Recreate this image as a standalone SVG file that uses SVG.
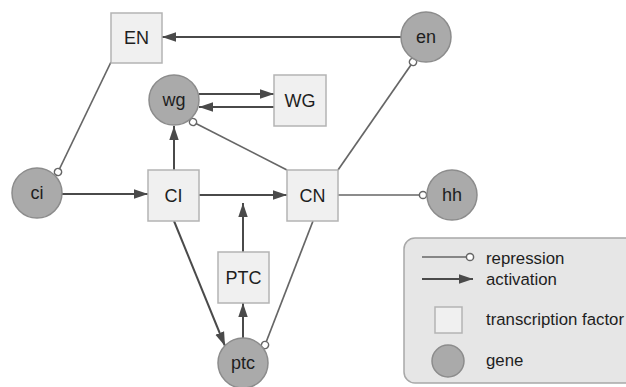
<svg xmlns="http://www.w3.org/2000/svg" width="626" height="387" viewBox="0 0 626 387">
<style>
.tf{fill:#f0f0f0;stroke:#b4b4b4;stroke-width:1.5}
.gene{fill:#aaaaaa;stroke:#8c8c8c;stroke-width:1.5}
.lbl{font-family:"Liberation Sans",Arial,sans-serif;font-size:18px;fill:#1e1e1e;text-anchor:middle}
.leg{font-family:"Liberation Sans",Arial,sans-serif;font-size:16.8px;fill:#1e1e1e}
.act{stroke:#4a4a4a;stroke-width:2;fill:none;marker-end:url(#arrow)}
.rep{stroke:#666;stroke-width:1.7;fill:none;marker-end:url(#bar)}
</style>
<defs>
<marker id="arrow" markerUnits="userSpaceOnUse" markerWidth="15" markerHeight="11" refX="14" refY="5.5" orient="auto">
<path d="M0,0.8 L14,5.5 L0,10.2 z" fill="#4a4a4a"/>
</marker>
<marker id="bar" markerUnits="userSpaceOnUse" markerWidth="10" markerHeight="10" refX="5" refY="5" orient="auto">
<circle cx="5" cy="5" r="3.6" fill="#fff" stroke="#666" stroke-width="1.5"/>
</marker>
</defs>
<rect x="404" y="238" width="250" height="145" rx="11" fill="#e6e6e6" stroke="#a8a8a8" stroke-width="1.5"/>
<g id="connectors">
<path class="act" d="M401,37 L162,37"/>
<path class="act" d="M199,94 L274,94"/>
<path class="act" d="M274,107 L199,107"/>
<path class="act" d="M174,170 L174,126"/>
<path class="act" d="M62,194 L148,194"/>
<path class="act" d="M199,195 L287,195"/>
<path class="act" d="M243,252 L243,203"/>
<path class="act" d="M243,338 L243,303"/>
<path class="act" d="M174,221 L225,346"/>
<path class="rep" d="M111,62 L58,172"/>
<path class="rep" d="M287,170 L193,122"/>
<path class="rep" d="M338,170 L413,62"/>
<path class="rep" d="M338,195 L423,195"/>
<path class="rep" d="M313,221 L265,345"/>
</g>
<g id="EN"><rect class="tf" x="111" y="13" width="51" height="50"/><text class="lbl" x="136.5" y="44">EN</text></g>
<g id="en"><circle class="gene" cx="426" cy="37" r="25"/><text class="lbl" x="426" y="43">en</text></g>
<g id="wg"><circle class="gene" cx="174" cy="100" r="25"/><text class="lbl" x="174" y="106">wg</text></g>
<g id="WG"><rect class="tf" x="274" y="75" width="52" height="51"/><text class="lbl" x="300" y="107">WG</text></g>
<g id="ci"><circle class="gene" cx="37" cy="193" r="25"/><text class="lbl" x="37" y="199">ci</text></g>
<g id="CI"><rect class="tf" x="148" y="170" width="51" height="51"/><text class="lbl" x="173.5" y="202">CI</text></g>
<g id="CN"><rect class="tf" x="287" y="170" width="51" height="51"/><text class="lbl" x="312.5" y="202">CN</text></g>
<g id="hh"><circle class="gene" cx="452" cy="195" r="25"/><text class="lbl" x="452" y="201">hh</text></g>
<g id="PTC"><rect class="tf" x="218" y="252" width="51" height="51"/><text class="lbl" x="243.5" y="284">PTC</text></g>
<g id="ptc"><circle class="gene" cx="243" cy="363" r="25"/><text class="lbl" x="243" y="369">ptc</text></g>
<g id="legend">
<path class="rep" d="M422,257 L470,257"/>
<path class="act" d="M422,279 L473,279"/>
<rect class="tf" x="435" y="307" width="27" height="26"/>
<circle class="gene" cx="448" cy="361" r="16"/>
<text class="leg" x="486" y="264">repression</text>
<text class="leg" x="486" y="285">activation</text>
<text class="leg" x="486" y="325">transcription factor</text>
<text class="leg" x="486" y="366">gene</text>
</g>
</svg>
